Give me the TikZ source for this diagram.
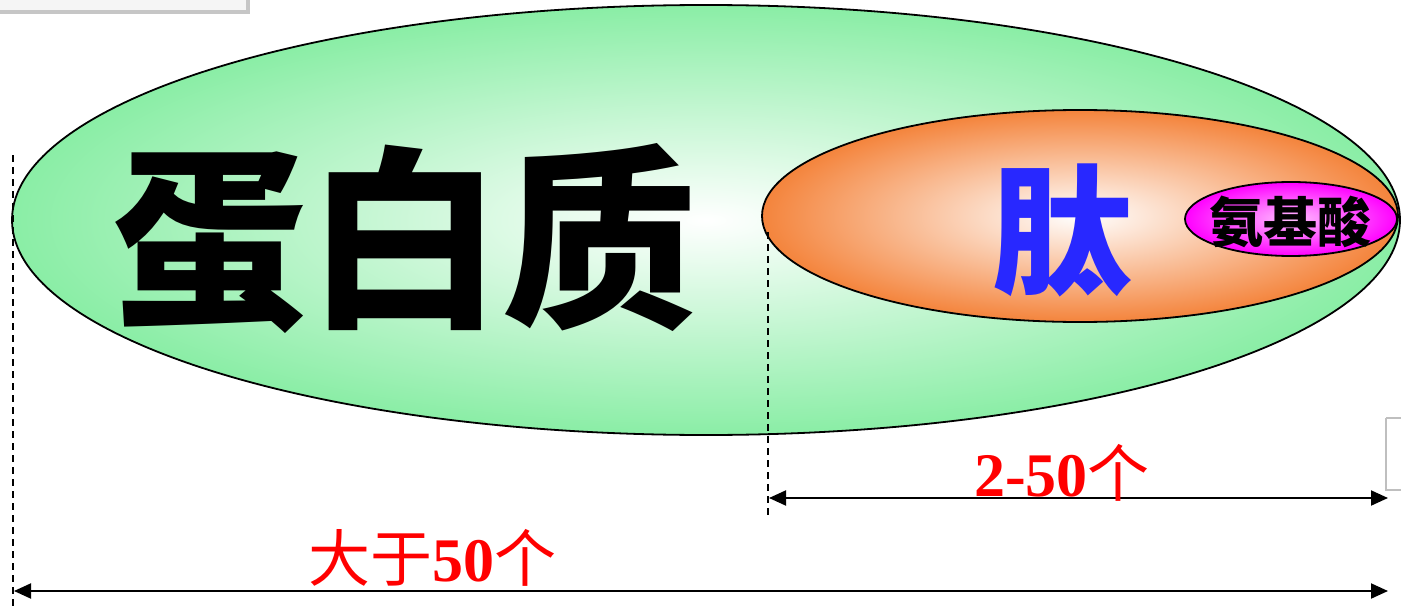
\documentclass[tikz,border=0pt]{standalone}
\usepackage{fontspec}
\setmainfont{Liberation Serif}
\newfontfamily\cjk{Noto Sans CJK SC}
\usetikzlibrary{arrows.meta,shapes.geometric}
\definecolor{protgreen}{RGB}{150,236,180}
\definecolor{peporange}{RGB}{244,132,60}
\definecolor{aamag}{RGB}{255,0,255}
\definecolor{pepblue}{RGB}{40,40,255}
\definecolor{lblred}{RGB}{255,0,0}
\tikzset{
  blob/.style={ellipse, draw=black, line width=1.8pt, inner sep=0pt},
  guide/.style={dashed, line width=1.2pt, dash pattern=on 7pt off 5pt},
  dimarrow/.style={line width=2pt, {Triangle[length=17pt,width=15pt]}-{Triangle[length=17pt,width=15pt]}},
  lbl/.style={text=lblred, font=\fontsize{62}{62}\selectfont\bfseries, inner sep=0pt}
}
\begin{document}
\begin{tikzpicture}[x=1pt,y=-1pt]
\useasboundingbox (0,0) rectangle (1401,610);
% slide artefacts
\fill[gray!45] (0,-2) rectangle (250,14);
\fill[gray!8] (0,-2) rectangle (246,10);
\draw[gray!50, line width=1.2pt] (1386,418) -- (1401,418) (1386,418) -- (1386,490) -- (1401,490);
% ellipses
\node[blob, minimum width=1388pt, minimum height=430pt, inner color=white, outer color=protgreen!92!green] (prot) at (706,220) {};
\node[blob, minimum width=636pt, minimum height=212pt, inner color=white, outer color=peporange] (pep) at (1080,216) {};
\node[blob, minimum width=212pt, minimum height=74pt, inner color=aamag!25, outer color=aamag] (aa) at (1291,219) {};
% texts
\node[inner sep=0pt, font=\cjk\bfseries\fontsize{195}{195}\selectfont] (tprot) at (405,238) {蛋白质};
\node[inner sep=0pt, text=pepblue, font=\cjk\bfseries\fontsize{140}{140}\selectfont] (tpep) at (1062,230) {肽};
\node[inner sep=0pt, font=\cjk\bfseries\fontsize{54}{54}\selectfont] (taa) at (1290,222) {氨基酸};
% guides
\coordinate (g1t) at (13,155);
\coordinate (g1b) at (13,610);
\coordinate (g2t) at (768,232);
\coordinate (g2b) at (768,515);
\draw[guide] (g1t) -- (g1b);
\draw[guide] (g2t) -- (g2b);
% dimension arrows
\coordinate (a1l) at (14,591);
\coordinate (a1r) at (1388,591);
\coordinate (a2l) at (769,498);
\coordinate (a2r) at (1388,498);
\draw[dimarrow] (a1l) -- (a1r);
\draw[dimarrow] (a2l) -- (a2r);
\node[lbl] (l2) at (1062,473) {2-50{\cjk\mdseries 个}};
\node[lbl] (l1) at (432,558) {{\cjk\mdseries 大于}50{\cjk\mdseries 个}};
\end{tikzpicture}
\end{document}
